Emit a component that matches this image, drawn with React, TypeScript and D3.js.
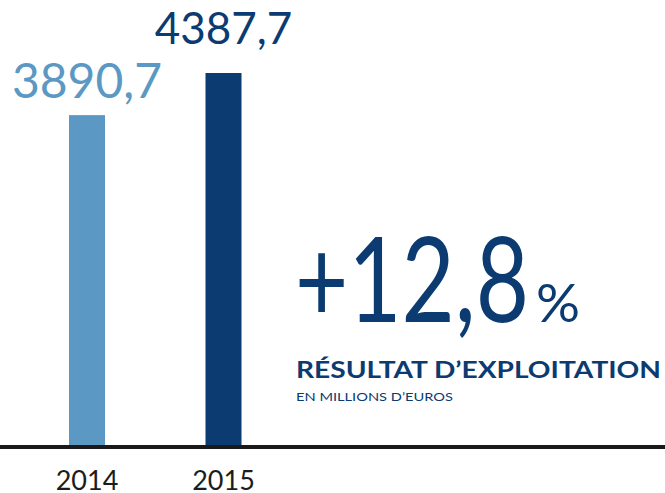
import React from 'react';
import * as d3 from 'd3';

const years = ['2014', '2015'];
const values = [3890.7, 4387.7];
const valueLabels = ['3890,7', '4387,7'];
const growthLabel = '+12,8';
const title = 'RÉSULTAT D\u2019EXPLOITATION';
const subtitle = 'EN MILLIONS D\u2019EUROS';

const width = 665;
const height = 493;
const baseY = 445;
const barWidth = 36;
const colors = ['#5b98c3', '#0b3b71'];
const labelSizes = [48, 44];
const labelGaps = [17, 29];
const font = 'Lato, "Open Sans", sans-serif';

export default function App() {
  const x = d3.scalePoint<string>().domain(years).range([87, 223.5]);
  const y = d3.scaleLinear().domain([0, 4387.7]).range([baseY, 73]);

  return (
    <svg
      width={width}
      height={height}
      style={{ position: 'absolute', left: 0, top: 0, background: '#fff' }}
    >
      {years.map((yr, i) => (
        <g key={yr}>
          <rect
            x={(x(yr) ?? 0) - barWidth / 2}
            y={y(values[i])}
            width={barWidth}
            height={baseY - y(values[i])}
            fill={colors[i]}
          />
          <text
            x={x(yr)}
            y={y(values[i]) - labelGaps[i]}
            textAnchor="middle"
            fontFamily={font}
            fontSize={labelSizes[i]}
            fill={colors[i]}
          >
            {valueLabels[i]}
          </text>
          <text
            x={x(yr)}
            y={490}
            textAnchor="middle"
            fontFamily={font}
            fontSize={27}
            fill="#1c1c1c"
          >
            {yr}
          </text>
        </g>
      ))}

      {/* baseline */}
      <line x1={0} x2={width} y1={baseY + 2} y2={baseY + 2} stroke="#1a1a1a" strokeWidth={4} />

      {/* growth figure */}
      <text
        x={295}
        y={322}
        fontFamily={font}
        fontSize={118}
        fill="#0b3b71"
        textLength={234}
        lengthAdjust="spacingAndGlyphs"
      >
        {growthLabel}
      </text>
      <text x={536} y={322} fontFamily={font} fontSize={52} fill="#0b3b71" textLength={44} lengthAdjust="spacingAndGlyphs">
        %
      </text>
      <text
        x={296}
        y={378}
        fontFamily={font}
        fontWeight={700}
        fontSize={23.5}
        fill="#0b3b71"
        textLength={365}
        lengthAdjust="spacingAndGlyphs"
      >
        {title}
      </text>
      <text
        x={296}
        y={401}
        fontFamily={font}
        fontSize={11.5}
        fill="#0b3b71"
        textLength={157}
        lengthAdjust="spacingAndGlyphs"
      >
        {subtitle}
      </text>
    </svg>
  );
}
